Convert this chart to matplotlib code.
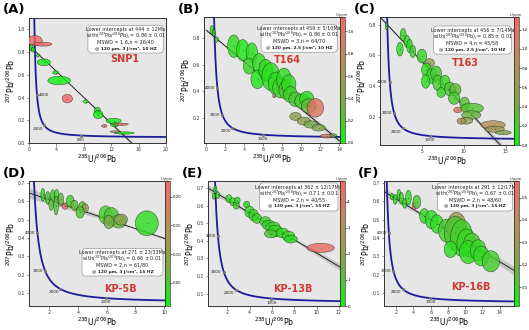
import numpy as np
import matplotlib
matplotlib.use("Agg")
import matplotlib.pyplot as plt
from matplotlib.patches import Ellipse, FancyBboxPatch
from matplotlib.colors import LinearSegmentedColormap, Normalize
from matplotlib.cm import ScalarMappable

# ---- data ----
# (A) SNP1
a_x = [0.83, 2.0, 0.35, 0.6, 1.3, 2.16, 3.9, 4.4, 5.6, 8.3, 10.0, 10.1, 12.35, 12.5, 13.4, 11.0, 12.6, 13.9]
a_y = [0.90, 0.87, 0.84, 0.82, 0.77, 0.71, 0.62, 0.55, 0.39, 0.365, 0.285, 0.25, 0.195, 0.16, 0.165, 0.15, 0.10, 0.088]
a_w = [2.2, 2.7, 0.5, 0.6, 0.4, 1.9, 0.9, 3.3, 1.5, 0.7, 0.9, 1.4, 2.2, 1.2, 2.2, 0.8, 1.5, 2.9]
a_h = [0.09, 0.035, 0.06, 0.04, 0.03, 0.06, 0.03, 0.075, 0.075, 0.03, 0.06, 0.07, 0.045, 0.035, 0.02, 0.025, 0.015, 0.02]
a_u = [1, 1, 0, 0, 0, 0, 0, 0, 1, 0, 0, 0, 0, 0, 1, 1, 0.8, 0]

# (B) T164
b_x = [0.59, 0.8, 1.08, 2.89, 3.83, 4.8, 4.5, 5.57, 5.4, 6.27, 6.8, 7.32, 7.84, 8.2, 8.36, 8.7, 8.88, 9.4,
       10.1, 10.6, 10.8, 11.5, 7.15, 9.4, 10.3, 11.0, 11.85, 12.7, 13.4]
b_y = [0.865, 0.84, 0.79, 0.74, 0.71, 0.69, 0.59, 0.61, 0.49, 0.56, 0.51, 0.46, 0.425, 0.49, 0.41, 0.45, 0.375, 0.34,
       0.325, 0.34, 0.29, 0.275, 0.365, 0.21, 0.175, 0.15, 0.125, 0.0625, 0.067]
b_w = [0.4, 0.35, 0.4, 1.3, 1.3, 1.2, 1.2, 1.4, 1.4, 1.45, 1.9, 1.55, 1.7, 1.55, 1.4, 1.5, 1.45, 1.4,
       1.55, 1.5, 1.55, 1.75, 0.3, 1.2, 1.4, 1.4, 1.4, 1.4, 0.7]
b_h = [0.06, 0.05, 0.04, 0.17, 0.16, 0.15, 0.12, 0.15, 0.14, 0.16, 0.21, 0.17, 0.15, 0.17, 0.14, 0.15, 0.12, 0.11,
       0.11, 0.12, 0.11, 0.14, 0.03, 0.06, 0.06, 0.055, 0.05, 0.03, 0.025]
b_u = [0.1, 0.15, 0.2, 0.1, 0.05, 0.08, 0.12, 0.1, 0.05, 0.12, 0.08, 0.1, 0.15, 0.1, 0.2, 0.1, 0.15, 0.2,
       0.18, 0.1, 0.25, 1.0, 0.95, 0.45, 0.5, 0.35, 0.4, 0.9, 0.3]

# (C) T163
c_x = [0.77, 2.77, 3.23, 2.38, 3.54, 3.92, 5.0, 5.92, 5.54, 6.15, 6.7, 5.46, 6.9, 7.77, 8.35, 9.0, 7.3, 8.85,
       9.3, 10.1, 11.0, 10.9, 10.3, 9.7, 13.5, 13.7, 14.7]
c_y = [0.79, 0.735, 0.69, 0.64, 0.66, 0.625, 0.595, 0.55, 0.505, 0.466, 0.48, 0.43, 0.42, 0.42, 0.38, 0.375, 0.357, 0.32,
       0.243, 0.287, 0.254, 0.21, 0.173, 0.17, 0.145, 0.117, 0.095]
c_w = [0.3, 0.7, 0.7, 0.77, 0.7, 0.7, 1.15, 1.15, 1.15, 1.15, 1.3, 1.0, 1.2, 1.2, 1.35, 1.35, 1.0, 1.35,
       1.0, 1.15, 2.7, 2.3, 1.55, 1.0, 2.9, 2.3, 1.9]
c_h = [0.045, 0.08, 0.08, 0.09, 0.09, 0.08, 0.09, 0.055, 0.09, 0.1, 0.1, 0.09, 0.1, 0.1, 0.09, 0.08, 0.065, 0.08,
       0.035, 0.08, 0.065, 0.055, 0.045, 0.04, 0.055, 0.04, 0.026]
c_u = [0.1, 0.1, 0.15, 0.1, 0.1, 0.2, 0.15, 0.6, 0.1, 0.15, 0.2, 0.1, 0.2, 0.15, 0.25, 0.3, 0.1, 0.2,
       1.2, 0.3, 0.25, 0.35, 0.6, 0.8, 0.85, 0.7, 0.45]

# (D) KP-5B
d_x = [1.54, 1.88, 2.23, 2.12, 2.5, 2.46, 2.8, 3.08, 3.45, 3.75, 4.3, 4.5, 4.14, 5.92, 6.33, 6.84, 6.15, 7.0, 8.8]
d_y = [0.635, 0.618, 0.627, 0.582, 0.63, 0.575, 0.61, 0.573, 0.6, 0.578, 0.57, 0.563, 0.54, 0.525, 0.515, 0.49, 0.487, 0.5, 0.48]
d_w = [0.28, 0.32, 0.32, 0.32, 0.32, 0.32, 0.37, 0.4, 0.55, 0.5, 0.5, 0.45, 0.58, 0.92, 1.04, 1.04, 0.7, 0.9, 1.6]
d_h = [0.07, 0.07, 0.07, 0.063, 0.068, 0.1, 0.07, 0.035, 0.065, 0.055, 0.055, 0.045, 0.063, 0.1, 0.1, 0.072, 0.072, 0.06, 0.135]
d_u = [0.03, 0.05, 0.04, 0.06, 0.03, 0.05, 0.07, 0.225, 0.04, 0.06, 0.05, 0.12, 0.05, 0.04, 0.05, 0.06, 0.08, 0.1, 0.03]

# (E) KP-13B
e_x = [0.93, 1.13, 0.79, 2.14, 2.5, 2.8, 2.9, 3.73, 4.0, 4.36, 4.65, 5.4, 5.7, 6.1, 6.3, 5.9, 6.95, 7.48, 7.7, 10.36]
e_y = [0.69, 0.66, 0.654, 0.64, 0.622, 0.603, 0.63, 0.607, 0.565, 0.546, 0.527, 0.51, 0.49, 0.475, 0.456, 0.44, 0.445, 0.427, 0.41, 0.36]
e_w = [0.3, 0.35, 0.3, 0.55, 0.55, 0.55, 0.5, 0.55, 0.85, 0.85, 0.85, 1.0, 1.15, 1.3, 1.3, 1.15, 1.15, 1.15, 1.15, 2.45]
e_h = [0.045, 0.04, 0.035, 0.045, 0.045, 0.045, 0.037, 0.037, 0.065, 0.065, 0.055, 0.055, 0.055, 0.065, 0.065, 0.045, 0.055, 0.055, 0.045, 0.052]
e_u = [0.3, 0.5, 0.4, 0.4, 0.5, 0.6, 0.3, 0.5, 0.4, 0.6, 0.5, 0.7, 0.5, 0.6, 0.4, 0.8, 0.5, 0.6, 0.4, 4.6]

# (F) KP-16B
f_x = [1.52, 1.9, 2.33, 2.62, 3.0, 3.43, 4.1, 4.4, 5.27, 6.1, 6.73, 7.83, 9.0, 8.86, 9.6, 10.15, 10.77, 10.33, 11.5, 11.87, 12.97, 8.3]
f_y = [0.625, 0.61, 0.637, 0.616, 0.589, 0.62, 0.575, 0.596, 0.52, 0.5, 0.476, 0.44, 0.46, 0.428, 0.4, 0.374, 0.36, 0.323, 0.333, 0.302, 0.273, 0.338]
f_w = [0.37, 0.44, 0.44, 0.5, 0.5, 0.66, 0.45, 0.9, 1.1, 1.47, 1.47, 1.83, 2.2, 2.57, 2.57, 2.2, 2.0, 2.0, 1.83, 1.83, 2.0, 1.47]
f_h = [0.036, 0.054, 0.054, 0.063, 0.054, 0.08, 0.045, 0.072, 0.08, 0.1, 0.1, 0.125, 0.16, 0.18, 0.2, 0.15, 0.135, 0.125, 0.115, 0.108, 0.115, 0.09]
f_u = [0.05, 0.06, 0.05, 0.08, 0.06, 0.07, 0.55, 0.1, 0.08, 0.06, 0.07, 0.1, 0.3, 0.12, 0.1, 0.08, 0.1, 0.06, 0.08, 0.07, 0.1, 0.06]

names = ["SNP1", "T164", "T163", "KP-5B", "KP-13B", "KP-16B"]
letters = ["(A)", "(B)", "(C)", "(D)", "(E)", "(F)"]
ages = [444, 459, 456, 271, 362, 291]
age_err = ["12", "5/10", "7/14", "23/33", "12/17", "12/17"]
pb0 = [0.86, 0.86, 0.85, 0.66, 0.71, 0.67]
mswd = ["1.6", "3", "4", "2", "2", "2"]
n_used = ["26/40", "64/70", "45/58", "61/80", "40/55", "48/60"]
laser = ["3 J/cm², 10 HZ", "2.5 J/cm², 10 HZ", "2.5 J/cm², 10 HZ",
         "3 J/cm², 15 HZ", "3 J/cm², 15 HZ", "3 J/cm², 15 HZ"]
u_max = [None, 1.13, 1.33, 0.227, 4.8, 0.574]
u_min = [None, 0.0, 0.0, 0.01, 0.0, 0.016]
cb_ticks = [None, [0.0, 0.2, 0.4, 0.6, 0.8, 1.0], [0.0, 0.2, 0.4, 0.6, 0.8, 1.0, 1.2],
            [0.05, 0.10, 0.15, 0.20], [0, 1, 2, 3, 4], [0.1, 0.2, 0.3, 0.4, 0.5]]
conc_ages = [[4000, 2400, 800], [4000, 3000, 2000, 1000], [4000, 3000, 2000, 1000],
             [4000, 3000, 2000, 1000], [4000, 3000, 2000, 1000], [4000, 3000, 2000, 1000]]

ell_data = [(a_x, a_y, a_w, a_h, a_u), (b_x, b_y, b_w, b_h, b_u), (c_x, c_y, c_w, c_h, c_u),
            (d_x, d_y, d_w, d_h, d_u), (e_x, e_y, e_w, e_h, e_u), (f_x, f_y, f_w, f_h, f_u)]

# ---- layout (pixels from top-left) ----
W, H = 529.0, 330.0
ax_px = [(29, 18, 166, 143), (204, 17, 340, 143), (380, 17, 514, 145),
         (29, 181, 165, 306), (208, 181, 340, 306), (384, 181, 514, 306)]
xlims = [(0, 20), (-0.25, 14.1), (0, 16), (0.57, 10.07), (0.27, 12.1), (0.6, 15.65)]
ylims = [(0, 1.1), (0.01, 0.96), (0.014, 0.85), (0.03, 0.71), (0.03, 0.74), (0.03, 0.71)]
xticks = [range(0, 21, 4), range(0, 15, 2), [5, 10, 15], range(2, 11, 2), range(2, 13, 2), range(2, 15, 2)]
yticks = [np.arange(0, 1.01, 0.2), [0.2, 0.4, 0.6, 0.8], [0.2, 0.4, 0.6, 0.8],
          np.arange(0.1, 0.71, 0.1), np.arange(0.1, 0.71, 0.1), np.arange(0.1, 0.71, 0.1)]
box_pos = [(0.43, 0.72, 0.55, 0.22), (0.42, 0.72, 0.56, 0.22), (0.40, 0.71, 0.58, 0.22),
           (0.39, 0.24, 0.595, 0.22), (0.39, 0.76, 0.595, 0.225), (0.41, 0.76, 0.58, 0.225)]
name_pos = [(0.70, 0.67), (0.61, 0.66), (0.64, 0.64), (0.67, 0.14), (0.64, 0.14), (0.67, 0.15)]
band_k = [0.0015, 0.002, 0.002, 0.0035, 0.003, 0.003]

cmap = LinearSegmentedColormap.from_list("uppm", ["#12ee12", "#7fa64a", "#b88e5a", "#f26868"])


def concordia(t_ma):
    t = np.asarray(t_ma, dtype=float) * 1e6
    e8 = np.expm1(1.55125e-10 * t)
    e5 = np.expm1(9.8485e-10 * t)
    return 1.0 / e8, e5 / e8 / 137.88


fig = plt.figure(figsize=(W / 100, H / 100), dpi=100)
plt.rcParams["font.family"] = "DejaVu Sans"

for i in range(6):
    l, t, r, b = ax_px[i]
    ax = fig.add_axes([l / W, 1 - b / H, (r - l) / W, (b - t) / H])
    ax.set_facecolor("#e6e6e6")
    ax.set_xlim(*xlims[i])
    ax.set_ylim(*ylims[i])

    # discordia + envelope
    xl, yl = concordia(ages[i])
    xs = np.linspace(0, xlims[i][1] + 1, 200)
    ys = pb0[i] + (yl - pb0[i]) / xl * xs
    hw = band_k[i] * (0.3 + np.abs(xs - xl * 0.35))
    ax.fill_between(xs, ys - hw, ys + hw, color="#9a9a9a", alpha=0.45, lw=0, zorder=1)
    ax.plot(xs, ys, color="#111111", lw=0.6, zorder=2)

    # concordia curve
    tt = np.geomspace(1, 6000, 800)
    cx, cy = concordia(tt)
    ax.plot(cx, cy, color="#1c1c9c", lw=1.3, zorder=3)
    for k, ag in enumerate(conc_ages[i]):
        px, py = concordia(ag)
        ax.plot(px, py, "o", ms=1.2, color="#777777", zorder=4)
        if k == len(conc_ages[i]) - 1:
            off, ha, va = (0, -1.5), "center", "top"
        elif ag >= 3000:
            off, ha, va = ((1.5, 0), "left", "center") if i == 0 else ((-1.5, 0), "right", "center")
        else:
            off, ha, va = (-1, -1), "right", "top"
        ax.annotate(str(ag), (px, py), xytext=off, textcoords="offset points",
                    ha=ha, va=va, fontsize=3.0, color="#222222", zorder=4)

    # error ellipses
    ex, ey, ew, eh, eu = ell_data[i]
    if i == 0:
        norm = Normalize(0, 1)
    else:
        norm = Normalize(u_min[i], u_max[i])
    for x0, y0, w0, h0, u0 in zip(ex, ey, ew, eh, eu):
        col = cmap(norm(u0))
        ax.add_patch(Ellipse((x0, y0), w0, h0, facecolor=col, alpha=0.82,
                             edgecolor="#1a2a1a", lw=0.35, zorder=5))
        ax.plot(x0, y0, "o", ms=0.4, mew=0, color="#222222", zorder=6)

    # info box
    bx, by, bw, bh = box_pos[i]
    ax.add_patch(FancyBboxPatch((bx, by), bw, bh, boxstyle="round,pad=0,rounding_size=0.03",
                                transform=ax.transAxes, facecolor="white", edgecolor="#999999",
                                lw=0.5, zorder=7))
    cxm = bx + bw / 2
    lines = ["Lower intercepts at %d ± %sMa" % (ages[i], age_err[i]),
             r"with($^{207}$Pb/$^{206}$Pb)$_i$ = %.2f ± 0.01" % pb0[i],
             "MSWD = %s,n = %s" % (mswd[i], n_used[i])]
    for j, s in enumerate(lines):
        ax.text(cxm, by + bh * (0.84 - j * 0.225), s, transform=ax.transAxes, ha="center",
                va="center", fontsize=3.5, color="#222222", zorder=8)
    ax.text(cxm, by + bh * 0.16, "@ 120 μm, " + laser[i], transform=ax.transAxes,
            ha="center", va="center", fontsize=3.2, fontweight="bold", color="#222222", zorder=8)
    ax.text(name_pos[i][0], name_pos[i][1], names[i], transform=ax.transAxes, ha="center",
            va="center", fontsize=7, fontweight="bold", color="#d03a30", zorder=8)

    ax.set_xticks(list(xticks[i]))
    ax.set_yticks(list(yticks[i]))
    ax.set_xticklabels([str(v) for v in xticks[i]])
    ax.set_yticklabels(["%.1f" % v for v in yticks[i]])
    ax.tick_params(labelsize=3.3, length=1.8, width=0.4, pad=1.2, colors="#333333")
    for sp in ax.spines.values():
        sp.set_linewidth(0.7)
        sp.set_color("#333333")
    ax.set_xlabel(r"$^{238}$U/$^{206}$Pb", fontsize=5.5, labelpad=0.5)
    ax.set_ylabel(r"$^{207}$Pb/$^{206}$Pb", fontsize=5.5, labelpad=0.5)

    fig.text((l - 26) / W, 1 - (t - 8) / H, letters[i], fontsize=9.5, fontweight="bold",
             ha="left", va="center")

    # colour bar
    if i > 0:
        cax = fig.add_axes([r / W, 1 - b / H, 4.5 / W, (b - t) / H])
        cb = fig.colorbar(ScalarMappable(norm=norm, cmap=cmap), cax=cax)
        cb.set_ticks(cb_ticks[i])
        if i == 4:
            cb.set_ticklabels([str(v) for v in cb_ticks[i]])
        elif i == 3:
            cb.set_ticklabels(["%.2f" % v for v in cb_ticks[i]])
        else:
            cb.set_ticklabels(["%.1f" % v for v in cb_ticks[i]])
        cb.ax.tick_params(labelsize=2.8, length=1.2, width=0.4, pad=0.8)
        cb.outline.set_linewidth(0.4)
        cax.set_title("U/ppm", fontsize=2.6, pad=1, color="#333333")

fig.savefig("out.png", dpi=100)
